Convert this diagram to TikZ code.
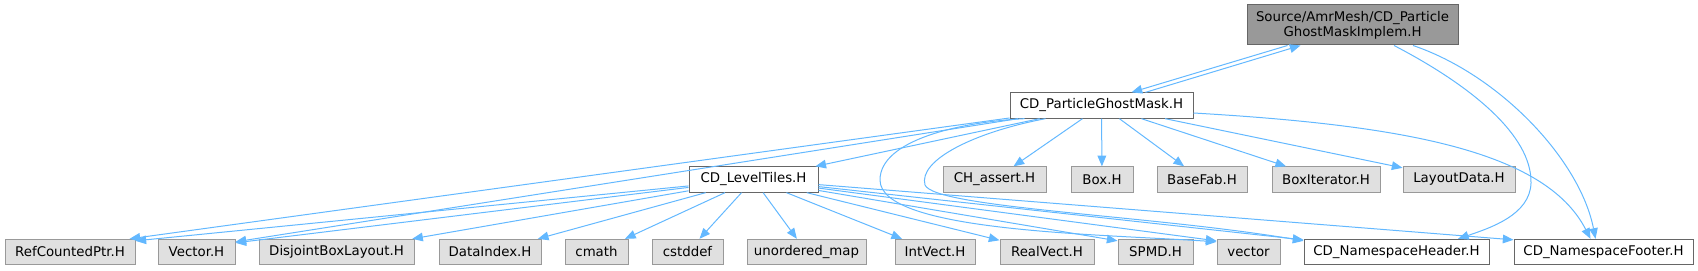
\documentclass[tikz,border=0pt]{standalone}
\usepackage{fontspec}
\setmainfont{DejaVu Sans}
\usetikzlibrary{arrows.meta,calc}
\definecolor{edgec}{HTML}{63B8FF}
\definecolor{gborder}{HTML}{999999}
\definecolor{gfill}{HTML}{E0E0E0}
\definecolor{dborder}{HTML}{666666}
\definecolor{rootfill}{HTML}{999999}
\tikzset{
  fbox/.style={draw=dborder, fill=white, line width=0.75pt, inner sep=0pt,
    minimum height=19pt, font=\fontsize{10}{11.25}\selectfont},
  sysbox/.style={fbox, draw=gborder, fill=gfill},
  rootbox/.style={fbox, fill=rootfill, minimum height=30pt, align=center},
  arr/.style={draw=edgec, line width=0.75pt, -{Triangle[length=8pt,width=6.5pt]}},
}
\begin{document}
\begin{tikzpicture}[x=0.75pt,y=-0.75pt]
\useasboundingbox (0,0) rectangle (1698,271);
% nodes
\node[rootbox, minimum width=158.25pt] (top) at (1352.5,25) {Source/AmrMesh/CD\_Particle\\GhostMaskImplem.H};
\node[fbox, minimum width=137.25pt] (pgm) at (1101.5,105.5) {CD\_ParticleGhostMask.H};
\node[fbox, minimum width=96.75pt] (lt) at (753.5,179.5) {CD\_LevelTiles.H};
\node[sysbox, minimum width=77.25pt] (cha) at (994.5,179.5) {CH\_assert.H};
\node[sysbox, minimum width=46.5pt] (box) at (1102,179.5) {Box.H};
\node[sysbox, minimum width=67.5pt] (bfab) at (1202,179.5) {BaseFab.H};
\node[sysbox, minimum width=81pt] (bit) at (1326,179.5) {BoxIterator.H};
\node[sysbox, minimum width=84pt] (ld) at (1459,179.5) {LayoutData.H};
\node[sysbox, minimum width=97.5pt] (rcp) at (70,252) {RefCountedPtr.H};
\node[sysbox, minimum width=57.75pt] (vec) at (196.5,252) {Vector.H};
\node[sysbox, minimum width=116.25pt] (dbl) at (336.5,252) {DisjointBoxLayout.H};
\node[sysbox, minimum width=76.5pt] (di) at (490,252) {DataIndex.H};
\node[sysbox, minimum width=47.25pt] (cm) at (596.5,252) {cmath};
\node[sysbox, minimum width=53.25pt] (cs) at (687.5,252) {cstddef};
\node[sysbox, minimum width=89.25pt] (um) at (806.5,252) {unordered\_map};
\node[sysbox, minimum width=60pt] (iv) at (935,252) {IntVect.H};
\node[sysbox, minimum width=70.5pt] (rv) at (1047,252) {RealVect.H};
\node[sysbox, minimum width=56.25pt] (spmd) at (1155.5,252) {SPMD.H};
\node[sysbox, minimum width=47.25pt] (stdv) at (1248.5,252) {vector};
\node[fbox, minimum width=138.75pt] (nsh) at (1396.5,252) {CD\_NamespaceHeader.H};
\node[fbox, minimum width=134.25pt] (nsf) at (1603.5,252) {CD\_NamespaceFooter.H};
% edges from the root
\draw[arr] ($(top.south)+(-65,0)$) -- ($(pgm.north)+(30,0)$);
\draw[arr] ($(pgm.north)+(44,0)$) -- ($(top.south)+(-52,0)$);
\draw[arr] ($(top.south)+(41.5,0)$) .. controls (1470,85) and (1532,135) .. (1531,183)
   .. controls (1530,215) and (1490,228) .. ($(nsh.north)+(61.5,0)$);
\draw[arr] ($(top.south)+(60.5,0)$) .. controls (1500,75) and (1580,160) .. ($(nsf.north)+(-8,0)$);
% edges from CD_ParticleGhostMask.H
\draw[arr] ($(pgm.east)+(0,7.5)$) .. controls (1400,125) and (1545,150) .. ($(nsf.north)+(-13,0)$);
\draw[arr] (pgm) -- (lt);
\draw[arr] (pgm) -- (cha);
\draw[arr] (pgm) -- (box);
\draw[arr] (pgm) -- (bfab);
\draw[arr] (pgm) -- (bit);
\draw[arr] (pgm) -- (ld);
\draw[arr] (pgm) -- ($(rcp.north east)+(-6,0)$);
\draw[arr] (pgm) -- ($(vec.north east)+(0,3)$);
\draw[arr] ($(pgm.south)+(-77,0)$) .. controls (960,122) and (880,140) .. (880,180)
   .. controls (880,232) and (1100,234) .. ($(stdv.north west)+(0,3)$);
\draw[arr] ($(pgm.south)+(-56,0)$) .. controls (975,132) and (918,160) .. (925,185)
   .. controls (935,208) and (1150,215) .. ($(nsh.north west)+(0,2)$);
% edges from CD_LevelTiles.H
\draw[arr] (lt) -- ($(rcp.north east)+(0,2)$);
\draw[arr] (lt) -- ($(vec.north east)+(0,4)$);
\draw[arr] (lt) -- (dbl);
\draw[arr] (lt) -- (di);
\draw[arr] (lt) -- (cm);
\draw[arr] (lt) -- (cs);
\draw[arr] (lt) -- (um);
\draw[arr] (lt) -- (iv);
\draw[arr] (lt) -- (rv);
\draw[arr] (lt) -- ($(spmd.north west)+(0,2)$);
\draw[arr] (lt) -- ($(stdv.north west)+(0,2)$);
\draw[arr] (lt) -- ($(nsh.north west)+(0,1)$);
\draw[arr] (lt) -- ($(nsf.north west)+(0,1)$);
\end{tikzpicture}
\end{document}
